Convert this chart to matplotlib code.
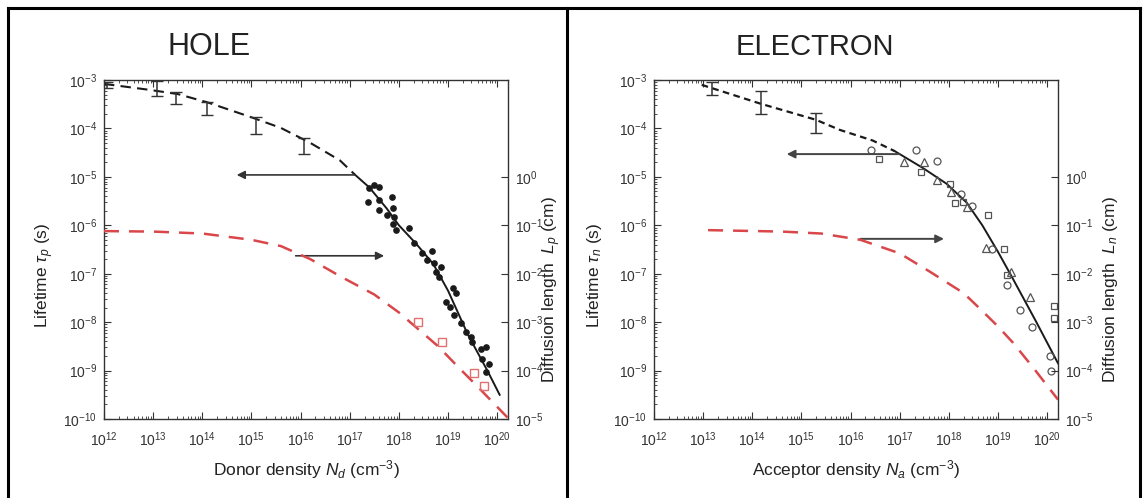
import matplotlib
matplotlib.use("Agg")
import matplotlib.pyplot as plt
import numpy as np
from matplotlib.lines import Line2D

# values, stored as log10 (N in cm^-3, tau in s, L in cm)
HOLE_DASH_N = [12.0, 12.9, 13.5, 14.1, 15.0, 15.6, 16.2, 16.8, 17.1]
HOLE_DASH_TAU = [-3.08, -3.2, -3.29, -3.46, -3.77, -3.99, -4.3, -4.66, -4.95]
HOLE_SOLID_N = [17.1, 17.4, 17.75, 18.0, 18.35, 18.7, 19.0, 19.4, 19.8, 20.05]
HOLE_SOLID_TAU = [-4.95, -5.22, -5.65, -6.0, -6.38, -6.8, -7.35, -8.25, -9.0, -9.5]
HOLE_ERR_N = [12.06, 13.08, 13.46, 14.09, 15.09, 16.07]
HOLE_ERR_LO = [-3.16, -3.33, -3.49, -3.72, -4.11, -4.53]
HOLE_ERR_HI = [-3.04, -3.02, -3.25, -3.45, -3.76, -4.2]
HOLE_DOTS_N = [17.40, 17.50, 17.60, 17.38, 17.60, 17.85, 17.60, 17.89, 17.75, 17.91,
               17.87, 17.95, 18.21, 18.31, 18.48, 18.68, 18.58, 18.72, 18.86, 18.76,
               18.82, 19.11, 19.17, 18.96, 19.03, 19.13, 19.27, 19.37, 19.47, 19.49,
               19.68, 19.70, 19.78, 19.84, 19.78]
HOLE_DOTS_TAU = [-5.22, -5.16, -5.20, -5.51, -5.48, -5.42, -5.69, -5.65, -5.79, -5.83,
                 -5.98, -6.10, -6.06, -6.37, -6.57, -6.53, -6.72, -6.78, -6.86, -6.96,
                 -7.07, -7.29, -7.39, -7.58, -7.68, -7.85, -8.01, -8.20, -8.30, -8.42,
                 -8.56, -8.77, -8.52, -8.87, -9.02]
HOLE_L_N = [12.0, 13.0, 14.0, 15.0, 15.6, 16.2, 16.8, 17.5, 18.0, 18.4, 18.8, 19.2, 19.6, 20.22]
HOLE_L = [-1.12, -1.13, -1.17, -1.3, -1.43, -1.7, -2.05, -2.43, -2.8, -3.15, -3.5, -3.92, -4.33, -4.98]
HOLE_SQ_N = [18.38, 18.88, 19.53, 19.74]
HOLE_SQ_L = [-2.99, -3.4, -4.04, -4.32]

ELEC_DASH_N = [12.97, 14.17, 15.29, 15.78, 16.45, 16.9]
ELEC_DASH_TAU = [-3.1, -3.49, -3.82, -4.03, -4.25, -4.47]
ELEC_SOLID_N = [16.9, 17.46, 17.95, 18.36, 18.68, 19.0, 19.3, 19.78, 20.22]
ELEC_SOLID_TAU = [-4.47, -4.81, -5.14, -5.53, -6.0, -6.55, -7.1, -8.0, -8.85]
ELEC_ERR_N = [13.18, 14.17, 15.29]
ELEC_ERR_LO = [-3.31, -3.70, -4.09]
ELEC_ERR_HI = [-3.04, -3.23, -3.68]
ELEC_CIRC_N = [16.41, 17.34, 17.75, 18.25, 18.48, 18.88, 19.19, 19.45, 19.70, 20.05, 20.07]
ELEC_CIRC_TAU = [-4.44, -4.44, -4.68, -5.36, -5.61, -6.49, -7.23, -7.74, -8.11, -8.7, -9.0]
ELEC_SQ_N = [16.57, 17.44, 18.03, 18.13, 18.29, 18.80, 19.13, 19.19, 20.14, 20.14]
ELEC_SQ_TAU = [-4.64, -4.91, -5.14, -5.53, -5.51, -5.79, -6.49, -7.02, -7.66, -7.91]
ELEC_TRI_N = [17.08, 17.50, 17.75, 18.05, 18.36, 18.76, 19.27, 19.65]
ELEC_TRI_TAU = [-4.70, -4.70, -5.07, -5.32, -5.63, -6.47, -6.96, -7.48]
ELEC_L_N = [13.1, 14.6, 15.4, 16.2, 16.6, 17.0, 17.6, 18.3, 18.65, 19.0, 19.3, 19.7, 20.22]
ELEC_L = [-1.1, -1.13, -1.17, -1.3, -1.44, -1.58, -1.95, -2.4, -2.74, -3.09, -3.42, -3.92, -4.6]

# arrows: (from N, to N, tau level) in log10
HOLE_ARROWS = [(17.1, 14.7, -4.96), (15.9, 17.7, -6.63)]
ELEC_ARROWS = [(17.0, 14.7, -4.53), (16.2, 17.9, -6.28)]

TAU_TICKS = [-3, -4, -5, -6, -7, -8, -9, -10]
L_TICKS = [0, -1, -2, -3, -4, -5]
N_TICKS = list(range(12, 21))

W, H = 1145, 498
RED = "#d9474a"
DARK = "#1a1a1a"
GREY = "#555555"

plt.rcParams["font.family"] = ["Liberation Sans", "DejaVu Sans"]
plt.rcParams["mathtext.fontset"] = "custom"
plt.rcParams["mathtext.rm"] = "Liberation Sans"
plt.rcParams["mathtext.it"] = "Liberation Sans:italic"


def p(v):
    return 10.0 ** np.asarray(v, dtype=float)


def setup_axes(ax):
    ax.set_xscale("log")
    ax.set_yscale("log")
    ax.set_xlim(1e12, 10 ** 20.22)
    ax.set_ylim(1e-10, 1e-3)
    ax.set_xticks(p(N_TICKS))
    ax.set_xticklabels([f"$10^{{{k}}}$" for k in N_TICKS])
    ax.set_yticks(p(TAU_TICKS))
    ax.set_yticklabels([f"$10^{{{k}}}$" for k in TAU_TICKS])
    ax.tick_params(which="both", direction="in", top=True, right=True,
                   labelsize=10, colors="#333333")
    ax.tick_params(which="major", length=5)
    ax.tick_params(which="minor", length=2.5)
    ax.tick_params(axis="x", pad=8)
    ax.tick_params(axis="y", pad=5)
    for s in ax.spines.values():
        s.set_linewidth(1.0)
        s.set_color("#333333")
    ax2 = ax.twinx()
    ax2.set_yscale("log")
    ax2.set_ylim(1e-5, 1e2)
    ax2.set_yticks(p(L_TICKS))
    ax2.set_yticklabels([f"$10^{{{k}}}$" for k in L_TICKS])
    ax2.yaxis.set_minor_locator(matplotlib.ticker.NullLocator())
    ax2.tick_params(direction="in", length=5, labelsize=10, colors="#333333", pad=5)
    for s in ax2.spines.values():
        s.set_visible(False)
    return ax2


fig = plt.figure(figsize=(W / 100, H / 100), dpi=100)
axes_h = 339 / H
axes_b = 1 - 419 / H
ax_h = fig.add_axes([104 / W, axes_b, 404 / W, axes_h])
ax_e = fig.add_axes([654 / W, axes_b, 404 / W, axes_h])
ax_h2 = setup_axes(ax_h)
ax_e2 = setup_axes(ax_e)

# HOLE panel
ax_h.plot(p(HOLE_DASH_N), p(HOLE_DASH_TAU), color=DARK, lw=1.5, ls=(0, (5, 3)))
ax_h.plot(p(HOLE_SOLID_N), p(HOLE_SOLID_TAU), color=DARK, lw=1.4)
hole_mid = p(HOLE_ERR_HI)
ax_h.errorbar(p(HOLE_ERR_N), hole_mid,
              yerr=[hole_mid - p(HOLE_ERR_LO), np.zeros(len(HOLE_ERR_N))],
              fmt="none", ecolor="#333333", elinewidth=1.1, capsize=4)
ax_h.plot(p(HOLE_DOTS_N), p(HOLE_DOTS_TAU), "o", color=DARK, ms=3.8, ls="none")
ax_h2.plot(p(HOLE_L_N), p(HOLE_L), color=RED, lw=1.8, ls=(0, (6, 4)))
ax_h2.plot(p(HOLE_SQ_N), p(HOLE_SQ_L), "s", mfc="none", mec="#e07070", ms=6, mew=1.0, ls="none")
for n0, n1, t in HOLE_ARROWS:
    ax_h.annotate("", xy=(10 ** n1, 10 ** t), xytext=(10 ** n0, 10 ** t),
                  arrowprops=dict(arrowstyle="-|>", color="#333333", lw=1.2,
                                  mutation_scale=12, shrinkA=0, shrinkB=0))

# ELECTRON panel
ax_e.plot(p(ELEC_DASH_N), p(ELEC_DASH_TAU), color=DARK, lw=1.6, ls=(0, (3, 2)))
ax_e.plot(p(ELEC_SOLID_N), p(ELEC_SOLID_TAU), color=DARK, lw=1.4)
elec_mid = p(ELEC_ERR_HI)
ax_e.errorbar(p(ELEC_ERR_N), elec_mid,
              yerr=[elec_mid - p(ELEC_ERR_LO), np.zeros(len(ELEC_ERR_N))],
              fmt="none", ecolor="#333333", elinewidth=1.1, capsize=4)
ax_e.plot(p(ELEC_CIRC_N), p(ELEC_CIRC_TAU), "o", mfc="none", mec=GREY, ms=5, mew=0.9, ls="none")
ax_e.plot(p(ELEC_SQ_N), p(ELEC_SQ_TAU), "s", mfc="none", mec=GREY, ms=5, mew=0.9, ls="none")
ax_e.plot(p(ELEC_TRI_N), p(ELEC_TRI_TAU), "^", mfc="none", mec=GREY, ms=5.5, mew=0.9, ls="none")
ax_e2.plot(p(ELEC_L_N), p(ELEC_L), color=RED, lw=1.8, ls=(0, (6, 4)))
for n0, n1, t in ELEC_ARROWS:
    ax_e.annotate("", xy=(10 ** n1, 10 ** t), xytext=(10 ** n0, 10 ** t),
                  arrowprops=dict(arrowstyle="-|>", color="#444444", lw=1.4,
                                  mutation_scale=12, shrinkA=0, shrinkB=0))


def ft(x, y, s, **kw):
    fig.text(x / W, 1 - y / H, s, ha="center", va="center", color="#222222", **kw)


ft(209, 47, "HOLE", fontsize=22)
ft(815, 47, "ELECTRON", fontsize=21)

ft(306, 470, r"Donor density $N_d$ (cm$^{-3}$)", fontsize=12.5)
ft(856, 470, r"Acceptor density $N_a$ (cm$^{-3}$)", fontsize=12.5)
ft(45, 275, r"Lifetime $\tau_p$ (s)", fontsize=12.5, rotation=90)
ft(594, 275, r"Lifetime $\tau_n$ (s)", fontsize=12.5, rotation=90)
ft(552, 290, r"Diffusion length  $L_p$ (cm)", fontsize=12.5, rotation=90)
ft(1110, 290, r"Diffusion length  $L_n$ (cm)", fontsize=12.5, rotation=90)

# frame around the figure and divider between panels
frame = dict(color="black", lw=2.2, transform=fig.transFigure)
for xs, ys in [([8, 1140], [8, 8]), ([8, 8], [8, 498]), ([1140, 1140], [8, 498]),
               ([567, 567], [8, 498])]:
    fig.add_artist(Line2D([x / W for x in xs], [1 - y / H for y in ys], **frame))

fig.savefig("out.png", dpi=100)
